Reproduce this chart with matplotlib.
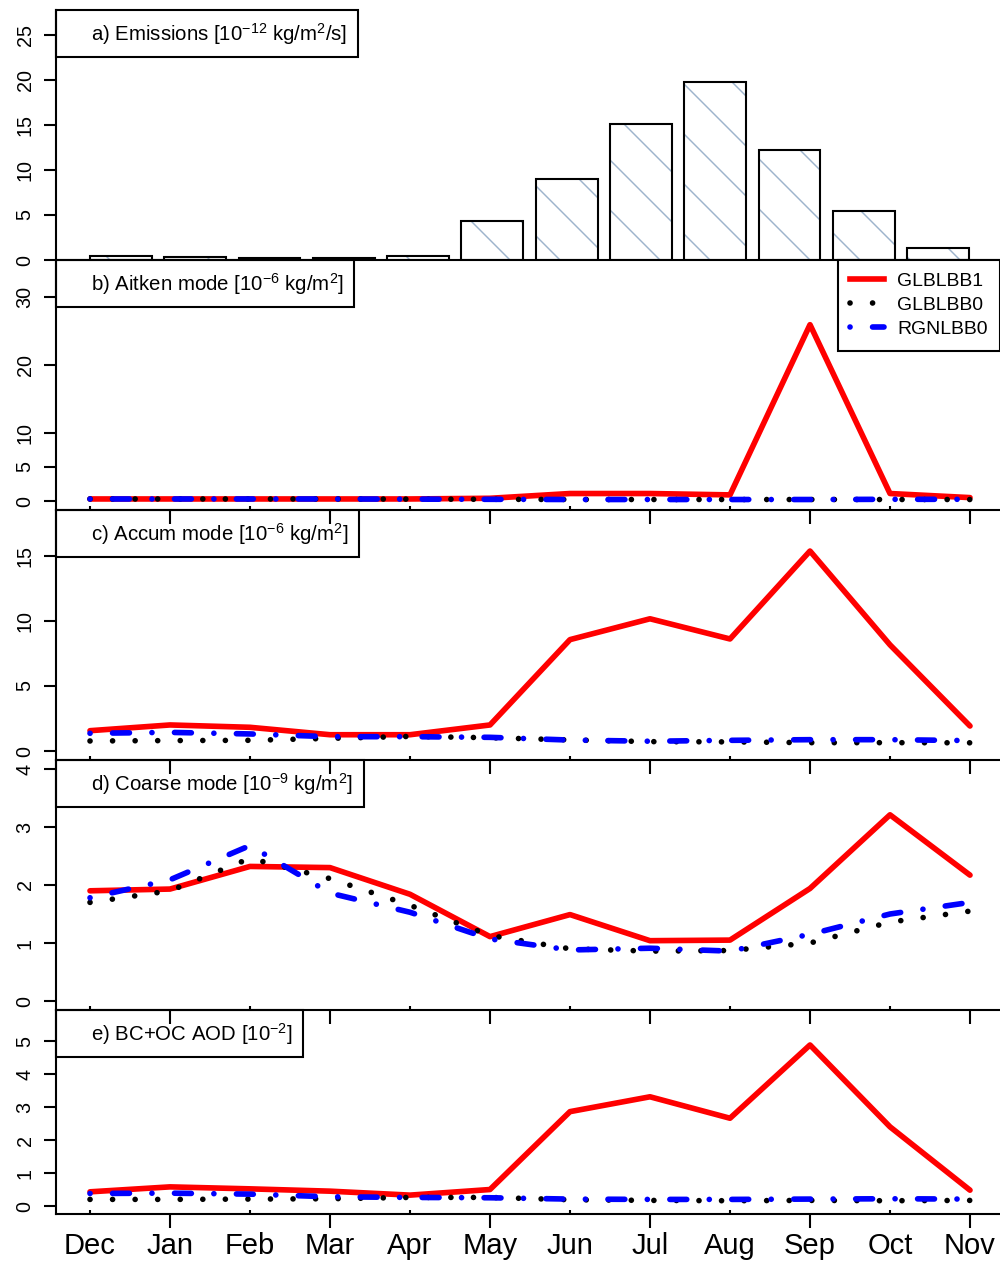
import matplotlib
matplotlib.use('Agg')
import matplotlib.pyplot as plt
from matplotlib.lines import Line2D

# Fonts / general style (R-like look)
plt.rcParams['font.family'] = ['Liberation Sans', 'DejaVu Sans']
plt.rcParams['mathtext.fontset'] = 'custom'
plt.rcParams['mathtext.rm'] = 'Liberation Sans'
plt.rcParams['mathtext.it'] = 'Liberation Sans:italic'
plt.rcParams['mathtext.bf'] = 'Liberation Sans:bold'
plt.rcParams['hatch.linewidth'] = 0.7
plt.rcParams['axes.linewidth'] = 1.0

# Data
months = ['Dec', 'Jan', 'Feb', 'Mar', 'Apr', 'May',
          'Jun', 'Jul', 'Aug', 'Sep', 'Oct', 'Nov']

emissions = [0.44, 0.33, 0.22, 0.2, 0.44, 4.33, 9.0, 15.05, 19.8, 12.2, 5.4, 1.33]

aitken_glb1 = [0.3, 0.3, 0.3, 0.3, 0.3, 0.4, 1.1, 1.1, 0.9, 25.9, 1.1, 0.5]
aitken_glb0 = [0.3, 0.3, 0.3, 0.3, 0.28, 0.25, 0.22, 0.22, 0.22, 0.22, 0.22, 0.22]
aitken_rgn0 = [0.3, 0.3, 0.3, 0.3, 0.28, 0.25, 0.22, 0.22, 0.22, 0.22, 0.25, 0.25]

accum_glb1 = [1.56, 2.0, 1.82, 1.25, 1.25, 2.0, 8.55, 10.15, 8.6, 15.35, 8.15, 1.92]
accum_glb0 = [0.77, 0.8, 0.82, 0.97, 1.12, 1.02, 0.85, 0.72, 0.7, 0.64, 0.64, 0.63]
accum_rgn0 = [1.36, 1.43, 1.31, 1.1, 1.1, 1.05, 0.84, 0.75, 0.82, 0.87, 0.87, 0.8]

coarse_glb1 = [1.90, 1.93, 2.32, 2.30, 1.84, 1.11, 1.49, 1.04, 1.05, 1.94, 3.21, 2.17]
coarse_glb0 = [1.70, 1.90, 2.46, 2.11, 1.65, 1.13, 0.90, 0.86, 0.87, 1.0, 1.36, 1.55]
coarse_rgn0 = [1.78, 2.09, 2.68, 1.86, 1.53, 1.07, 0.88, 0.91, 0.86, 1.15, 1.50, 1.70]

aod_glb1 = [0.43, 0.58, 0.52, 0.45, 0.33, 0.5, 2.86, 3.31, 2.66, 4.88, 2.40, 0.48]
aod_glb0 = [0.2, 0.2, 0.21, 0.22, 0.26, 0.26, 0.19, 0.17, 0.16, 0.17, 0.16, 0.17]
aod_rgn0 = [0.38, 0.39, 0.36, 0.28, 0.26, 0.25, 0.21, 0.2, 0.2, 0.21, 0.22, 0.21]

series_names = ['GLBLBB1', 'GLBLBB0', 'RGNLBB0']

# Line styles (dash patterns in units of line width)
LW = 2.7
styles = {
    'GLBLBB1': dict(color='#ff0000', linestyle='-'),
    'GLBLBB0': dict(color='black', linestyle=(0, (0.01, 4))),
    'RGNLBB0': dict(color='#0000ff', linestyle=(0, (0.01, 4, 3, 4))),
}

W, H, DPI = 1000, 1262, 150
fig = plt.figure(figsize=(W / DPI, H / DPI), dpi=DPI)


def add_panel(top, bottom):
    ax = fig.add_axes([56 / W, 1 - bottom / H, (W - 56) / W, (bottom - top) / H])
    ax.set_facecolor('none')
    ax.spines['top'].set_visible(False)
    ax.spines['right'].set_visible(False)
    ax.tick_params(axis='y', direction='out', length=5.8, width=1.0, pad=4.5, labelsize=9.5)
    return ax


def set_yticks(ax, ticks):
    ax.set_yticks(ticks)
    for lab in ax.get_yticklabels():
        lab.set_rotation(90)
        lab.set_va('center')


def month_axis(ax, labels=False):
    odd = list(range(1, 12, 2))
    even = list(range(0, 12, 2))
    ax.set_xlim(-0.425, 11.375)
    ax.set_xticks(odd, [months[i] for i in odd])
    ax.set_xticks(even, [months[i] for i in even], minor=True)
    ax.tick_params(axis='x', which='major', direction='out', length=6.7, width=1.0,
                   pad=1.7, labelsize=14, labelbottom=labels)
    ax.tick_params(axis='x', which='minor', direction='in', length=2.0, width=1.0,
                   pad=8.4, labelsize=14, labelbottom=labels)


def panel_label(ax, text):
    leg = ax.legend([Line2D([], [], color='none')], [text], loc='upper left',
                    bbox_to_anchor=(0, 1), borderaxespad=0, frameon=True, fancybox=False,
                    edgecolor='black', facecolor='none', framealpha=1, fontsize=9.8,
                    borderpad=0.52, handlelength=0.7, handletextpad=0.5)
    leg.get_frame().set_linewidth(1.0)
    return leg


def plot_series(ax, values):
    x = list(range(len(months)))
    for name, vals in zip(series_names, values):
        ax.plot(x, vals, lw=LW, dash_capstyle='round', solid_capstyle='round',
                solid_joinstyle='round', label=name, **styles[name])


# a) Emissions bar plot
ax_a = add_panel(10, 260)
lefts = [0.2 + 1.2 * i for i in range(len(months))]
ax_a.bar(lefts, emissions, width=1.0, align='edge', color='white',
         edgecolor='#9db3cc', hatch='\\', linewidth=0)
ax_a.bar(lefts, emissions, width=1.0, align='edge', fill=False,
         edgecolor='black', linewidth=1.0)
ax_a.set_xlim(-0.349, 14.90)
ax_a.set_ylim(0, 27.75)
ax_a.set_xticks([])
set_yticks(ax_a, [0, 5, 10, 15, 20, 25])
panel_label(ax_a, r'a) Emissions [10$^{-12}$ kg/m$^{2}$/s]')

# b) Aitken mode
ax_b = add_panel(260, 510)
plot_series(ax_b, [aitken_glb1, aitken_glb0, aitken_rgn0])
ax_b.set_ylim(-1.32, 35.4)
set_yticks(ax_b, [0, 5, 10, 20, 30])
month_axis(ax_b)
lab_b = panel_label(ax_b, r'b) Aitken mode [10$^{-6}$ kg/m$^{2}$]')
ax_b.add_artist(lab_b)
handles = [Line2D([], [], lw=LW, dash_capstyle='round', **styles[n]) for n in series_names]
leg = ax_b.legend(handles, series_names, loc='upper right', bbox_to_anchor=(1, 1),
                  borderaxespad=0, frameon=True, fancybox=False, edgecolor='black',
                  facecolor='white', framealpha=1, fontsize=9.3, borderpad=0.65,
                  labelspacing=0.33, handlelength=1.75, handletextpad=0.65)
leg.get_frame().set_linewidth(1.0)

# c) Accumulation mode
ax_c = add_panel(510, 760)
plot_series(ax_c, [accum_glb1, accum_glb0, accum_rgn0])
ax_c.set_ylim(-0.69, 18.5)
set_yticks(ax_c, [0, 5, 10, 15])
month_axis(ax_c)
panel_label(ax_c, r'c) Accum mode [10$^{-6}$ kg/m$^{2}$]')

# d) Coarse mode
ax_d = add_panel(760, 1010)
plot_series(ax_d, [coarse_glb1, coarse_glb0, coarse_rgn0])
ax_d.set_ylim(-0.155, 4.155)
set_yticks(ax_d, [0, 1, 2, 3, 4])
month_axis(ax_d)
panel_label(ax_d, r'd) Coarse mode [10$^{-9}$ kg/m$^{2}$]')

# e) AOD
ax_e = add_panel(1010, 1214)
plot_series(ax_e, [aod_glb1, aod_glb0, aod_rgn0])
ax_e.set_ylim(-0.242, 5.94)
set_yticks(ax_e, [0, 1, 2, 3, 4, 5])
month_axis(ax_e, labels=True)
panel_label(ax_e, r'e) BC+OC AOD [10$^{-2}$]')

fig.savefig('out.png', dpi=DPI)
